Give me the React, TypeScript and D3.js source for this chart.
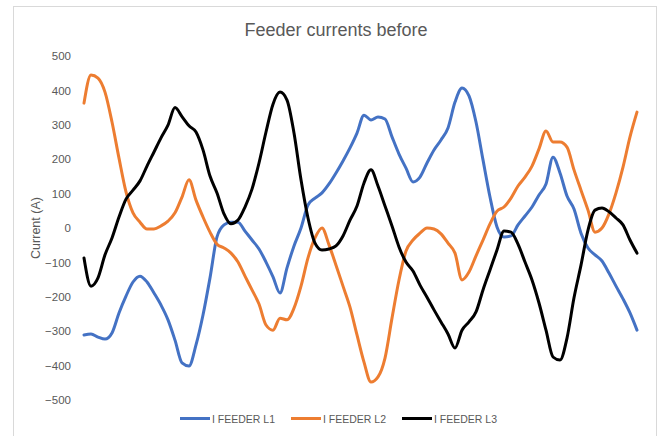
import { useEffect, useRef } from "react"
import * as d3 from "d3"

// values, one sample every ~7px along the x axis
const feederL1 = [
  -311, -308, -317, -323, -305, -247, -198, -157, -140, -157,
  -189, -224, -267, -326, -392, -401, -340, -253, -145, -26,
  9, 17, 17, -9, -35, -61, -99, -142, -189, -116,
  -52, 0, 67, 87, 102, 128, 160, 195, 233, 276,
  328, 314, 323, 317, 265, 215, 174, 134, 148, 189,
  227, 256, 291, 366, 407, 384, 308, 198, 90, 3,
  -26, -23, 9, 35, 61, 96, 128, 206, 160, 93,
  55, -15, -58, -78, -96, -131, -169, -206, -247, -297,
]

const feederL2 = [
  363, 445, 436, 395, 308, 203, 105, 44, 17, -3,
  -3, 6, 20, 44, 90, 140, 81, 32, -12, -47,
  -58, -73, -99, -140, -180, -221, -282, -297, -262, -267,
  -233, -169, -87, -29, 0, -49, -108, -169, -230, -311,
  -390, -448, -433, -378, -262, -151, -67, -35, -15, 0,
  -3, -17, -44, -73, -151, -128, -81, -35, 12, 49,
  61, 87, 122, 148, 180, 230, 282, 250, 250, 235,
  169, 110, 52, -12, 0, 41, 102, 177, 265, 337,
]

const feederL3 = [
  -87, -169, -145, -78, -29, 32, 84, 110, 137, 180,
  221, 262, 299, 350, 324, 297, 279, 227, 151, 102,
  41, 12, 23, 61, 113, 189, 279, 360, 395, 372,
  276, 140, 29, -44, -64, -61, -52, -23, 23, 64,
  131, 169, 122, 64, 6, -55, -99, -125, -166, -201,
  -238, -273, -308, -349, -297, -273, -244, -180, -122, -64,
  -9, -12, -47, -99, -151, -218, -297, -375, -384, -320,
  -203, -108, -6, 52, 58, 47, 29, 9, -35, -73,
]

const seriesNames = ["I FEEDER L1", "I FEEDER L2", "I FEEDER L3"]
const yTicks = [-500, -400, -300, -200, -100, 0, 100, 200, 300, 400, 500]

const colors = ["#4472C4", "#ED7D31", "#000000"]
const textColor = "#595959"
const font = "'Liberation Sans', Arial, sans-serif"

export default function App() {
  const svgRef = useRef<SVGSVGElement>(null)

  useEffect(() => {
    if (!svgRef.current) return
    const svg = d3.select(svgRef.current)
    svg.selectAll("*").remove()

    const series = [feederL1, feederL2, feederL3]
    const n = feederL1.length

    // chart frame
    svg
      .append("rect")
      .attr("x", 13.5)
      .attr("y", 6.5)
      .attr("width", 643)
      .attr("height", 440)
      .attr("fill", "white")
      .attr("stroke", "#d9d9d9")

    // title
    svg
      .append("text")
      .attr("x", 336)
      .attr("y", 36)
      .attr("text-anchor", "middle")
      .attr("fill", textColor)
      .attr("font-family", font)
      .attr("font-size", "18px")
      .text("Feeder currents before")

    const x = d3.scaleLinear().domain([0, n - 1]).range([84, 637])
    const y = d3.scaleLinear().domain([-500, 500]).range([400, 56])

    // y axis labels only
    const yAxis = svg
      .append("g")
      .attr("transform", "translate(75,0)")
      .call(d3.axisLeft(y).tickValues(yTicks).tickSize(0).tickPadding(4))
    yAxis.select(".domain").remove()
    yAxis
      .selectAll("text")
      .attr("fill", textColor)
      .attr("font-family", font)
      .attr("font-size", "11.5px")

    // axis title
    svg
      .append("text")
      .attr("transform", `translate(40,${y(0)}) rotate(-90)`)
      .attr("text-anchor", "middle")
      .attr("fill", textColor)
      .attr("font-family", font)
      .attr("font-size", "12.5px")
      .text("Current (A)")

    const line = d3
      .line<number>()
      .x((_, i) => x(i))
      .y((d) => y(d))
      .curve(d3.curveMonotoneX)

    series.forEach((values, k) => {
      svg
        .append("path")
        .datum(values)
        .attr("fill", "none")
        .attr("stroke", colors[k])
        .attr("stroke-width", 3)
        .attr("stroke-linejoin", "round")
        .attr("stroke-linecap", "round")
        .attr("d", line)
    })

    // legend
    const legendX = [180, 291, 402]
    seriesNames.forEach((name, k) => {
      const g = svg.append("g").attr("transform", `translate(${legendX[k]},418.5)`)
      g.append("line")
        .attr("x1", 0)
        .attr("x2", 30)
        .attr("stroke", colors[k])
        .attr("stroke-width", 3)
      g.append("text")
        .attr("x", 32)
        .attr("y", 4)
        .attr("fill", textColor)
        .attr("font-family", font)
        .attr("font-size", "10.5px")
        .text(name)
    })
  }, [])

  return (
    <svg
      ref={svgRef}
      width={663}
      height={436}
      style={{ position: "absolute", left: 0, top: 0, background: "white" }}
    />
  )
}
